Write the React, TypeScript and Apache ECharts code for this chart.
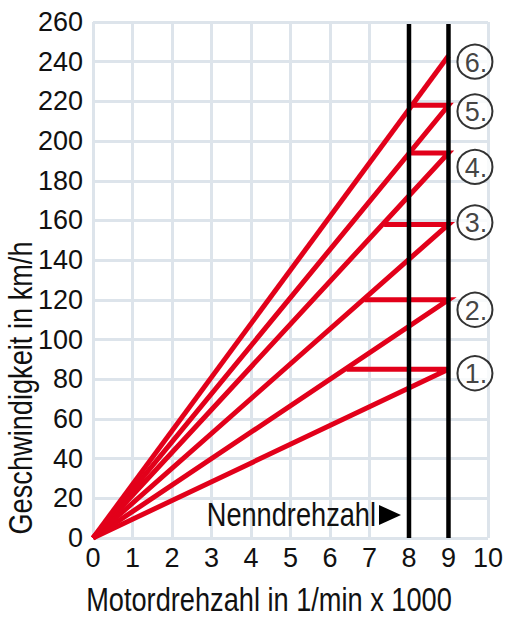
import React, { useEffect, useRef } from "react";
import * as echarts from "echarts";

// Data
const gearNames = ["1.", "2.", "3.", "4.", "5.", "6."];
const gearTopSpeed = [85, 120, 158, 194, 218, 243]; // km/h at 9000 1/min
const shiftStartRpm = [6.42, 6.87, 7.37, 8.04, 8.05, null]; // x where the shift line meets next gear
const maxRpm = 9;
const ratedRpm = 8;
const labelSpeed = [83, 115, 159, 187, 215, 240];
const labelRpm = 9.67;
const xTicks = [0, 1, 2, 3, 4, 5, 6, 7, 8, 9, 10];
const yTicks = [0, 20, 40, 60, 80, 100, 120, 140, 160, 180, 200, 220, 240, 260];
const verticalTop = 259;

const FONT = "'Liberation Sans', Arial, sans-serif";
const RED = "#e2001a";
const GRIDC = "#dde4eb";
const TXT = "#111";

export default function App() {
  const ref = useRef<HTMLDivElement>(null);
  useEffect(() => {
    if (!ref.current) return;
    const chart = echarts.init(ref.current, undefined, { renderer: "svg" });

    const gearSeries = gearTopSpeed.map((v, i) => {
      const pts: number[][] = [[0, 0], [maxRpm, v]];
      const s = shiftStartRpm[i];
      if (s !== null && s !== undefined) pts.push([s, v]);
      return {
        type: "line",
        name: gearNames[i],
        data: pts,
        symbol: "none",
        clip: false,
        z: 3,
        lineStyle: { color: RED, width: 5, join: "miter", cap: "butt" },
      };
    });

    const verticalSeries = [ratedRpm, maxRpm].map((x) => ({
      type: "line",
      data: [[x, 0], [x, verticalTop]],
      symbol: "none",
      clip: false,
      z: 5,
      lineStyle: { color: "#000", width: 4.5 },
    }));

    const labelSeries = {
      type: "scatter",
      data: gearNames.map((n, i) => ({ name: n, value: [labelRpm, labelSpeed[i]] })),
      symbol: "circle",
      symbolSize: [35, 34],
      clip: false,
      z: 6,
      itemStyle: { color: "#fff", borderColor: "#000", borderWidth: 2 },
      label: {
        show: true,
        position: "inside",
        formatter: "{b}",
        color: TXT,
        fontFamily: FONT,
        fontSize: 27,
        offset: [1, 1],
      },
    };

    const titleStyle = {
      fontFamily: FONT,
      fontSize: 34,
      fill: TXT,
      verticalAlign: "middle",
    };

    chart.setOption({
      animation: false,
      backgroundColor: "#fff",
      grid: { left: 93, right: 14, top: 22, bottom: 85, containLabel: false },
      xAxis: {
        type: "value",
        min: xTicks[0],
        max: xTicks[xTicks.length - 1],
        interval: 1,
        axisLine: { show: false },
        axisTick: { show: false },
        axisLabel: { color: TXT, fontFamily: FONT, fontSize: 27, margin: 6, showMaxLabel: true },
        splitLine: { show: true, lineStyle: { color: GRIDC, width: 3 } },
      },
      yAxis: {
        type: "value",
        min: yTicks[0],
        max: yTicks[yTicks.length - 1],
        interval: 20,
        axisLine: { show: false },
        axisTick: { show: false },
        axisLabel: { color: TXT, fontFamily: FONT, fontSize: 27, margin: 10 },
        splitLine: { show: true, lineStyle: { color: GRIDC, width: 3 } },
      },
      graphic: [
        {
          type: "text",
          x: 269,
          y: 599,
          scaleX: 0.8,
          style: { ...titleStyle, text: "Motordrehzahl in 1/min x 1000", align: "center" },
        },
        {
          type: "text",
          x: 20,
          y: 388,
          rotation: Math.PI / 2,
          scaleX: 0.8,
          style: { ...titleStyle, text: "Geschwindigkeit in km/h", align: "center" },
        },
        {
          type: "text",
          x: 376,
          y: 514,
          z: 10,
          scaleX: 0.8,
          style: { ...titleStyle, text: "Nenndrehzahl", align: "right" },
        },
        {
          type: "polygon",
          z: 10,
          shape: { points: [[379, 505], [401, 515], [379, 525]] },
          style: { fill: "#000" },
        },
      ],
      series: [...gearSeries, ...verticalSeries, labelSeries],
    });

    return () => chart.dispose();
  }, []);

  return (
    <div
      ref={ref}
      style={{ position: "fixed", left: 0, top: 0, width: 506, height: 623, background: "#fff" }}
    />
  );
}
